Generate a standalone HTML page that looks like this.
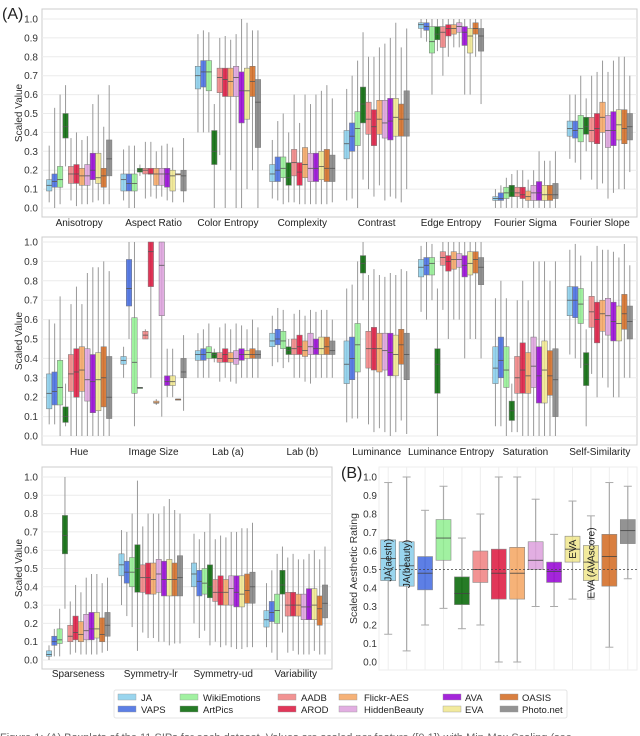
<!DOCTYPE html>
<html><head><meta charset="utf-8">
<style>
html,body{margin:0;padding:0;background:#fff;}
svg{display:block;font-family:"Liberation Sans",sans-serif;}
</style></head>
<body>
<svg id="chart" width="640" height="736" viewBox="0 0 640 736" xmlns="http://www.w3.org/2000/svg">
<text x="2" y="19" font-size="16" fill="#222">(A)</text>
<text x="341" y="478" font-size="16" fill="#222">(B)</text>
<text x="0" y="741" font-size="11" fill="#666">Figure 1: (A) Boxplots of the 11 SIPs for each dataset. Values are scaled per feature ([0,1]) with Min-Max Scaling (see</text>
</svg>
<script>
const datasets = ["JA","VAPS","WikiEmotions","ArtPics","AADB","AROD","Flickr-AES","HiddenBeauty","AVA","EVA","OASIS","Photo.net"];
const colors = ["#87CEEB","#4169E1","#90EE90","#006400","#F08080","#DC143C","#F4A460","#DDA0DD","#9400D3","#F0E68C","#D2691E","#808080"];
const features1 = ["Anisotropy","Aspect Ratio","Color Entropy","Complexity","Contrast","Edge Entropy","Fourier Sigma","Fourier Slope"];
const features2 = ["Hue","Image Size","Lab (a)","Lab (b)","Luminance","Luminance Entropy","Saturation","Self-Similarity"];
const features3 = ["Sparseness","Symmetry-lr","Symmetry-ud","Variability"];
const yTicks = [0,0.1,0.2,0.3,0.4,0.5,0.6,0.7,0.8,0.9,1.0];
const yTickLabels = ["0.0","0.1","0.2","0.3","0.4","0.5","0.6","0.7","0.8","0.9","1.0"];
// per feature, per dataset: [whisker-low, q1, median, q3, whisker-high]
const stats1 = [
 [[.03,.09,.12,.15,.33],[0,.11,.14,.18,.53],[.02,.11,.15,.22,.6],[.22,.37,.43,.50,.65],[.04,.13,.18,.22,.37],[.01,.13,.18,.23,.4],[.02,.12,.17,.21,.36],[.02,.12,.17,.23,.38],[.03,.15,.20,.29,.55],[.04,.13,.16,.29,.6],[.02,.11,.17,.21,.43],[.02,.17,.26,.36,.65]],
 [[.04,.09,.15,.18,.31],[0,.09,.13,.18,.33],[0,.09,.13,.18,.33],[.17,.19,.20,.21,.23],[.05,.18,.20,.21,.35],[.06,.18,.18,.21,.35],[.05,.12,.18,.21,.3],[.06,.12,.18,.21,.33],[.04,.11,.18,.21,.34],[.03,.09,.17,.20,.32],[.18,.18,.18,.18,.18],[.03,.09,.17,.20,.37]],
 [[.40,.63,.70,.75,.92],[.40,.64,.72,.78,.94],[.40,.62,.72,.78,.93],[0,.23,.30,.41,.55],[.28,.61,.69,.74,.90],[0,.59,.68,.74,.91],[.2,.59,.67,.74,.89],[0,.59,.69,.75,.92],[0,.45,.62,.72,1.0],[.1,.47,.62,.74,.98],[.2,.59,.67,.75,.94],[0,.32,.56,.68,.94]],
 [[.05,.14,.18,.23,.36],[.04,.14,.20,.27,.46],[.02,.16,.21,.27,.5],[.03,.12,.16,.24,.4],[.03,.17,.24,.31,.6],[.02,.12,.19,.24,.45],[.02,.16,.23,.32,.6],[.02,.14,.21,.29,.55],[.02,.14,.21,.29,.6],[.02,.15,.22,.30,.62],[.02,.14,.21,.31,.65],[.03,.14,.21,.28,.58]],
 [[.04,.26,.34,.41,.63],[.05,.30,.38,.45,.7],[0,.33,.42,.51,.78],[.15,.45,.55,.64,.93],[.1,.39,.47,.56,.8],[.06,.33,.43,.52,.8],[.12,.39,.47,.57,.85],[.04,.37,.45,.57,.87],[.06,.36,.46,.58,.9],[.05,.38,.48,.58,.98],[.03,.38,.47,.55,.85],[.1,.38,.47,.62,.95]],
 [[.9,.95,.97,.98,1],[.88,.94,.96,.98,1],[.6,.82,.88,.96,1],[.83,.89,.92,.96,1],[.7,.85,.93,.96,1],[.8,.91,.95,.97,1],[.85,.92,.95,.97,1],[.85,.93,.96,.98,1],[.6,.86,.93,.96,1],[.6,.82,.91,.95,1],[.8,.92,.95,.98,1],[.55,.83,.91,.95,1]],
 [[0,.04,.05,.06,.1],[0,.04,.05,.08,.12],[0,.05,.08,.11,.16],[0,.06,.09,.12,.18],[0,.06,.08,.11,.2],[0,.05,.07,.11,.2],[0,.04,.06,.09,.15],[0,.04,.08,.12,.2],[0,.04,.08,.14,.3],[0,.04,.07,.12,.25],[0,.04,.07,.12,.25],[0,.05,.07,.13,.3]],
 [[.26,.38,.42,.46,.6],[.24,.37,.41,.46,.6],[.15,.35,.42,.49,.7],[.3,.39,.43,.48,.58],[.15,.35,.41,.48,.7],[.1,.34,.42,.50,.72],[.13,.40,.48,.56,.78],[.05,.32,.41,.49,.72],[.08,.33,.41,.51,.78],[.1,.36,.44,.52,.8],[.1,.34,.42,.52,.8],[.19,.36,.43,.50,.7]]
];
const stats2 = [
 [[.06,.14,.22,.32,.6],[.06,.16,.23,.33,.58],[0,.16,.25,.39,.72],[.05,.07,.10,.15,.27],[0,.23,.32,.42,.68],[0,.20,.33,.45,.77],[0,.23,.34,.46,.68],[0,.18,.29,.45,.84],[0,.12,.28,.42,.87],[0,.13,.29,.43,.87],[0,.15,.30,.46,.9],[0,.09,.20,.41,.85]],
 [[.3,.37,.39,.41,.46],[.5,.67,.76,.91,1],[.05,.22,.38,.61,1],[.25,.25,.25,.25,.25],[.5,.50,.52,.54,.55],[.3,.77,.95,1,1],[.16,.17,.17,.18,.19],[.1,.62,.88,1,1],[.2,.26,.28,.31,.45],[.2,.26,.28,.31,.45],[.19,.19,.19,.19,.19],[.13,.30,.33,.40,.52]],
 [[.3,.39,.42,.44,.53],[.3,.39,.42,.45,.55],[.3,.40,.43,.46,.58],[.38,.40,.42,.43,.45],[.28,.38,.40,.43,.56],[.3,.38,.42,.45,.58],[.28,.38,.40,.43,.55],[.27,.37,.40,.44,.58],[.3,.39,.42,.45,.57],[.3,.40,.42,.44,.55],[.3,.40,.42,.45,.6],[.3,.40,.42,.44,.56]],
 [[.36,.46,.49,.53,.62],[.38,.47,.50,.55,.66],[.35,.45,.49,.54,.65],[.38,.42,.44,.46,.5],[.3,.42,.45,.50,.63],[.3,.42,.46,.52,.65],[.28,.41,.44,.49,.62],[.27,.42,.46,.53,.65],[.3,.42,.45,.50,.64],[.3,.42,.45,.51,.65],[.3,.42,.46,.51,.65],[.3,.42,.44,.49,.6]],
 [[.07,.27,.37,.49,.76],[.09,.29,.40,.51,.78],[.09,.33,.47,.58,.9],[.7,.84,.89,.93,1],[.06,.35,.45,.54,.83],[.02,.34,.45,.56,.86],[.04,.33,.45,.53,.83],[.02,.34,.44,.53,.82],[0,.31,.43,.53,.84],[.02,.31,.42,.52,.83],[.08,.37,.47,.55,.86],[.01,.29,.42,.53,.85]],
 [[.64,.82,.87,.91,.98],[.6,.83,.88,.92,1],[.7,.83,.89,.92,.99],[0,.22,.37,.45,.76],[.65,.88,.92,.95,1],[.5,.85,.90,.93,1],[.6,.86,.91,.95,1],[.6,.87,.91,.94,1],[.4,.82,.88,.93,1],[.5,.83,.89,.95,1],[.5,.84,.91,.95,1],[.4,.78,.87,.92,1]],
 [[.05,.27,.35,.46,.71],[.05,.30,.39,.51,.8],[0,.25,.34,.46,.71],[.02,.08,.13,.18,.27],[.02,.22,.30,.41,.7],[0,.22,.34,.48,.8],[0,.22,.31,.43,.7],[0,.25,.36,.51,.9],[0,.17,.31,.46,.9],[0,.17,.34,.49,.9],[0,.21,.31,.44,.8],[0,.10,.29,.45,.9]],
 [[.42,.62,.70,.77,.96],[.4,.61,.70,.77,.99],[.35,.58,.68,.76,.93],[.05,.26,.37,.43,.55],[.32,.56,.64,.72,.9],[.2,.48,.60,.69,.98],[.3,.54,.63,.70,.96],[.25,.52,.62,.71,.96],[.2,.49,.59,.69,.95],[.2,.49,.58,.67,.92],[.3,.55,.63,.73,.99],[.3,.50,.59,.67,.88]]
];
const stats3 = [
 [[0,.02,.03,.05,.08],[.02,.08,.10,.13,.17],[.02,.09,.11,.17,.28],[.28,.58,.68,.79,1],[.03,.10,.13,.19,.32],[.04,.11,.15,.24,.41],[.03,.10,.14,.21,.37],[.03,.11,.16,.25,.45],[.03,.11,.17,.26,.47],[.03,.12,.17,.26,.47],[.04,.10,.14,.23,.42],[.05,.13,.19,.26,.45]],
 [[.3,.46,.52,.58,.71],[.24,.42,.48,.54,.7],[.18,.40,.48,.56,.8],[.05,.37,.50,.63,.98],[.15,.37,.45,.52,.73],[.12,.36,.45,.53,.8],[.12,.36,.44,.53,.8],[.1,.37,.47,.55,.8],[.1,.35,.44,.54,.84],[.08,.35,.44,.55,.88],[.09,.35,.44,.53,.82],[.09,.35,.45,.57,.8]],
 [[.2,.40,.47,.53,.69],[.12,.35,.43,.49,.66],[.16,.36,.42,.50,.7],[.08,.34,.40,.52,.8],[.1,.32,.37,.44,.66],[.07,.30,.37,.46,.68],[.08,.30,.37,.44,.67],[.07,.30,.39,.46,.7],[.06,.29,.37,.46,.7],[.06,.29,.36,.46,.72],[.07,.31,.38,.47,.72],[.07,.31,.40,.48,.75]],
 [[.07,.18,.22,.27,.42],[.04,.21,.26,.32,.49],[0,.20,.27,.36,.58],[.15,.36,.41,.49,.62],[.04,.24,.30,.37,.56],[.05,.24,.30,.37,.58],[.03,.24,.30,.36,.55],[.03,.22,.29,.36,.55],[.03,.22,.29,.39,.58],[.05,.22,.30,.39,.6],[.03,.19,.28,.35,.55],[.03,.23,.31,.41,.62]]
];
const ratingLabels = ["JA(aesth)","JA(beauty)","VAPS","WikiEmotions","ArtPics","AADB","AROD","Flickr-AES","HiddenBeauty","AVA","EVA","EVA (AVAscore)","OASIS","Photo.net"];
const ratingColorIdx = [0,0,1,2,3,4,5,6,7,8,9,9,10,11];
const ratingInBoxText = ["JA(aesth)","JA(beauty)","","","","","","","","","EVA","EVA (AVAscore)","",""];
const ratingStats = [[.15,.44,.56,.66,.97],[.06,.41,.52,.65,1],[.20,.39,.48,.57,.82],[.29,.55,.67,.77,.95],[.18,.31,.37,.46,.67],[.20,.43,.50,.60,.80],[0,.34,.48,.61,1],[0,.34,.48,.62,1],[.30,.50,.55,.65,.88],[.30,.43,.49,.54,.69],[.34,.54,.61,.68,.87],[.34,.44,.54,.63,.79],[.08,.41,.57,.69,.97],[.45,.64,.71,.77,.95]];

const NS="http://www.w3.org/2000/svg";
const svg=document.getElementById('chart');
function mk(tag,attrs,parent){const e=document.createElementNS(NS,tag);for(const k in attrs)e.setAttribute(k,attrs[k]);(parent||svg).appendChild(e);return e;}

function panel(name,features,stats,fx0,fx1,fy0,fy1,y0,y1,labelY){
  const g=mk('g',{});
  
  
  const yS=v=>y0+(y1-y0)*v;
  const fr=mk('rect',{x:fx0,y:fy0,width:fx1-fx0,height:fy1-fy0,fill:'#fff',stroke:'#ccc','stroke-width':1},g);
  
  
  yTicks.forEach((t,i)=>{
    const gl=mk('line',{x1:fx0,x2:fx1,y1:yS(t),y2:yS(t),stroke:'#ebebeb','stroke-width':1},g);
    
    
    const tl=mk('text',{x:fx0-4,y:yS(t)+3.5,'font-size':10,'text-anchor':'end',fill:'#333'},g);
    tl.textContent=yTickLabels[i];
    
    
  });
  const yt=mk('text',{x:0,y:0,'font-size':10,'text-anchor':'middle',fill:'#333',transform:`translate(${fx0-20},${(fy0+fy1)/2}) rotate(-90)`},g);
  yt.textContent='Scaled Value';
  
  
  const gw=(fx1-fx0)/features.length, bw=gw*0.88/12;
  features.forEach((f,fi)=>{
    const gc=fx0+gw*(fi+0.5);
    const lb=mk('text',{x:gc,y:labelY,'font-size':10,'text-anchor':'middle',fill:'#222'},g);
    lb.textContent=f;
    
    
    stats[fi].forEach((s,di)=>{
      const cx=gc-gw*0.44+bw*(di+0.5);
      const w=mk('line',{x1:cx,x2:cx,y1:yS(s[0]),y2:yS(s[4]),stroke:'#999','stroke-width':1},g);
      
      
      const b=mk('rect',{x:cx-bw/2,y:yS(s[3]),width:bw,height:Math.max(1,yS(s[1])-yS(s[3])),fill:colors[di],'fill-opacity':0.85,stroke:'#777','stroke-width':0.5},g);
      
      
      const m=mk('line',{x1:cx-bw/2,x2:cx+bw/2,y1:yS(s[2]),y2:yS(s[2]),stroke:'#555','stroke-width':0.8},g);
      
      
    });
  });
}
panel('panel-a-top',features1,stats1,42,637,9,217,208,19,226);
panel('panel-a-middle',features2,stats2,42,637,237,445,436,242,455);
panel('panel-a-bottom',features3,stats3,42,332,467,669,660,477,677);

// Panel B
(function(){
  const g=mk('g',{});
  
  
  const fx0=379,fx1=637,fy0=467,fy1=670,y0=662,y1=477;
  const yS=v=>y0+(y1-y0)*v;
  const fr=mk('rect',{x:fx0,y:fy0,width:fx1-fx0,height:fy1-fy0,fill:'#fff',stroke:'#eee'},g);
  
  
  yTicks.forEach((t,i)=>{
    const tl=mk('text',{x:fx0-2,y:yS(t)+3.5,'font-size':10,'text-anchor':'end',fill:'#333'},g);
    tl.textContent=yTickLabels[i];
    
    
  });
  const yt=mk('text',{x:0,y:0,'font-size':10.5,'text-anchor':'middle',fill:'#333',transform:`translate(357,${(fy0+fy1)/2}) rotate(-90)`},g);
  yt.textContent='Scaled Aesthetic Rating';
  
  
  const step=(fx1-fx0)/ratingStats.length, bw=15;
  ratingStats.forEach((s,i)=>{
    const cx=fx0+step*(i+0.5);
    const vg=mk('line',{x1:cx,x2:cx,y1:fy0,y2:fy1,stroke:'#eee'},g);
    
    
  });
  ratingStats.forEach((s,i)=>{
    const cx=fx0+step*(i+0.5);
    const w=mk('line',{x1:cx,x2:cx,y1:yS(s[0]),y2:yS(s[4]),stroke:'#aaa','stroke-width':1.2},g);
    
    
    [s[0],s[4]].forEach(v=>{
      const c=mk('line',{x1:cx-4,x2:cx+4,y1:yS(v),y2:yS(v),stroke:'#aaa'},g);
      
      
    });
    const b=mk('rect',{x:cx-bw/2,y:yS(s[3]),width:bw,height:yS(s[1])-yS(s[3]),fill:colors[ratingColorIdx[i]],'fill-opacity':0.85,stroke:'#888','stroke-width':0.6},g);
    
    
    const m=mk('line',{x1:cx-bw/2,x2:cx+bw/2,y1:yS(s[2]),y2:yS(s[2]),stroke:'#444','stroke-width':0.8},g);
    
    
    if(ratingInBoxText[i]){
      const t=mk('text',{x:0,y:0,'font-size':10,'text-anchor':'middle',fill:'#222',transform:`translate(${cx+3.5},${yS((s[1]+s[3])/2)}) rotate(-90)`},g);
      t.textContent=ratingInBoxText[i];
      
      
    }
  });
  const ref=mk('line',{x1:fx0,x2:fx1,y1:yS(0.5),y2:yS(0.5),stroke:'#444','stroke-dasharray':'2,2','stroke-width':0.8},g);
  
  
})();

// Legend
(function(){
  const g=mk('g',{});
  
  
  const r=mk('rect',{x:114,y:690,width:453,height:28,fill:'#fff',stroke:'#e4e4e4',rx:2},g);
  
  
  const colX=[118,180,278,339,443,500], txtX=[141,203,301,364,465,522];
  datasets.forEach((d,i)=>{
    const c=Math.floor(i/2), row=i%2, y=692+row*12;
    const p=mk('rect',{x:colX[c],y:y+2,width:18,height:6,fill:colors[i],'fill-opacity':0.85,stroke:'#999','stroke-width':0.4},g);
    
    
    const t=mk('text',{x:txtX[c],y:y+9,'font-size':9.5,fill:'#222'},g);
    t.textContent=d;
    
    
  });
})();
</script>
</body></html>
